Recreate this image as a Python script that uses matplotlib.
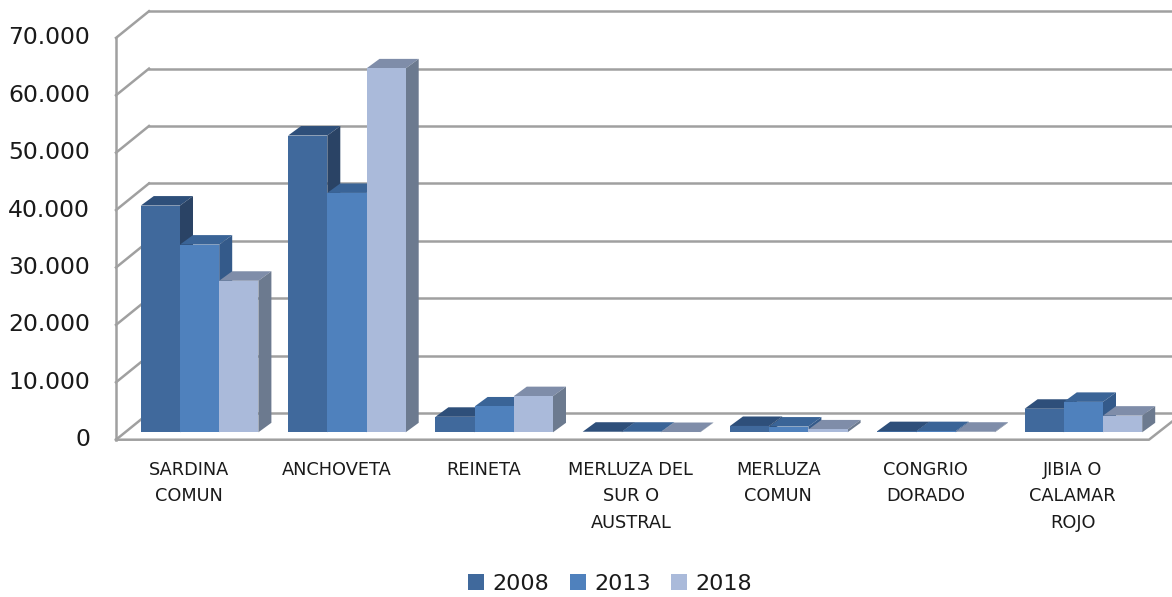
import matplotlib
matplotlib.use("Agg")
import matplotlib.pyplot as plt
from matplotlib.patches import Patch

categories = ["SARDINA\nCOMUN", "ANCHOVETA", "REINETA", "MERLUZA DEL\nSUR O\nAUSTRAL",
              "MERLUZA\nCOMUN", "CONGRIO\nDORADO", "JIBIA O\nCALAMAR\nROJO"]
years = ["2008", "2013", "2018"]
v2008 = [39500, 51700, 2700, 100, 1100, 200, 4100]
v2013 = [32700, 41700, 4500, 100, 1000, 200, 5300]
v2018 = [26400, 63400, 6300, 50, 500, 100, 2900]
yticks = [0, 10000, 20000, 30000, 40000, 50000, 60000, 70000]
ytick_labels = ["0", "10.000", "20.000", "30.000", "40.000", "50.000", "60.000", "70.000"]

series = [v2008, v2013, v2018]
front_cols = ["#40699C", "#4F81BD", "#AABADA"]
top_cols = ["#2E4F7A", "#3A6497", "#7F8DA9"]
side_cols = ["#2A4365", "#345A8A", "#6C7A8F"]

# scale of the picture: one category = 147.3 px, 10000 units = 57.4 px
W, H = 1172, 597
px_cat = 147.3
px_val = 57.4 / 10000
x0_px, y0_px = 199.6, 432.3


def to_x(px):
    return (px - x0_px) / px_cat


def to_y(py):
    return (y0_px - py) / px_val


fig = plt.figure(figsize=(W / 100, H / 100), dpi=100)
ax = fig.add_axes([0, 0, 1, 1])
ax.set_xlim(to_x(0), to_x(W))
ax.set_ylim(to_y(H), to_y(0))
ax.axis("off")

# walls
wall_col = "#A0A0A0"
lw = 1.8
front_l, back_l, front_r, back_r = to_x(116), to_x(149), to_x(1149), to_x(1183)
shift_front = to_y(439.7)
shift_back = to_y(413)
for t in yticks:
    ax.plot([front_l, back_l], [t + shift_front, t + shift_back], color=wall_col, lw=lw, zorder=1)
    ax.plot([back_l, back_r], [t + shift_back, t + shift_back], color=wall_col, lw=lw, zorder=1)
ax.plot([front_l, front_l], [shift_front, yticks[-1] + shift_front], color=wall_col, lw=lw, zorder=1)
ax.plot([front_l, front_r, back_r], [shift_front, shift_front, shift_back], color=wall_col, lw=lw, zorder=1)

for t, lab in zip(yticks, ytick_labels):
    ax.text(to_x(90), t + shift_front, lab, ha="right", va="center",
            fontsize=16.9, color="#1a1a1a", zorder=5)

# bars
bar_w = 39.2 / px_cat
dx = 13 / px_cat
dy = 9.5 / px_val
z = 2
for i in range(len(categories)):
    for j, vals in enumerate(series):
        v = vals[i]
        left = i - 1.5 * bar_w + j * bar_w
        right = left + bar_w
        ax.fill([left, left + dx, right + dx, right], [v, v + dy, v + dy, v],
                color=top_cols[j], lw=0, zorder=z)
        ax.fill([right, right + dx, right + dx, right], [0, dy, v + dy, v],
                color=side_cols[j], lw=0, zorder=z)
        ax.bar(left, v, bar_w, align="edge", color=front_cols[j], lw=0, zorder=z + 0.5)
        z += 1

# category labels
for i, name in enumerate(categories):
    ax.text(i - 10.6 / px_cat, to_y(461), name, ha="center", va="top", fontsize=12.8,
            linespacing=1.6, color="#1a1a1a", zorder=5)

handles = [Patch(color=c, lw=0) for c in front_cols]
ax.legend(handles, years, ncol=3, loc="center", bbox_to_anchor=(610 / W, 1 - 584 / H),
          frameon=False, fontsize=16, handlelength=0.72, handleheight=0.72,
          handletextpad=0.38, columnspacing=0.92, borderpad=0, labelcolor="#1a1a1a")

fig.savefig("out.png", dpi=100)
